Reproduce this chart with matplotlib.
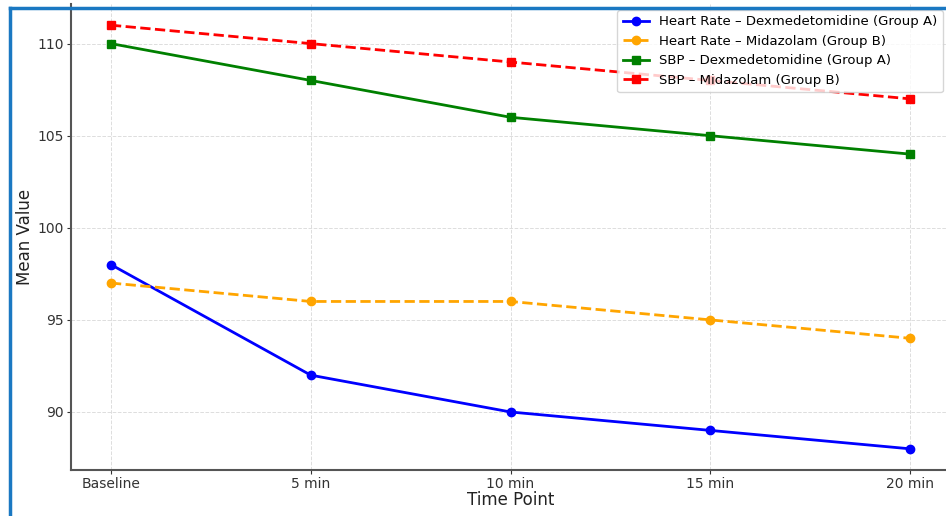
import matplotlib
matplotlib.use('Agg')
import matplotlib.pyplot as plt
from matplotlib.lines import Line2D

time_points = ['Baseline', '5 min', '10 min', '15 min', '20 min']
hr_dex = [98, 92, 90, 89, 88]
hr_mid = [97, 96, 96, 95, 94]
sbp_dex = [110, 108, 106, 105, 104]
sbp_mid = [111, 110, 109, 108, 107]

fig = plt.figure(figsize=(9.46, 5.16), dpi=100)
ax = fig.add_axes([71 / 946, 46 / 516, 879 / 946, 466 / 516])

x = range(len(time_points))
ax.plot(x, hr_dex, color='blue', marker='o', lw=2, ms=6, label='Heart Rate – Dexmedetomidine (Group A)')
ax.plot(x, hr_mid, color='orange', marker='o', lw=2, ms=6, ls='--', label='Heart Rate – Midazolam (Group B)')
ax.plot(x, sbp_dex, color='green', marker='s', lw=2, ms=6, label='SBP – Dexmedetomidine (Group A)')
ax.plot(x, sbp_mid, color='red', marker='s', lw=2, ms=6, ls='--', label='SBP – Midazolam (Group B)')

ax.set_xticks(list(x))
ax.set_xticklabels(time_points)
ax.set_yticks([90, 95, 100, 105, 110])
ax.tick_params(labelsize=10, colors='#333333', length=3, pad=2)
ax.set_xlabel('Time Point', fontsize=12, color='#222222')
ax.set_ylabel('Mean Value', fontsize=12, color='#222222')
ax.xaxis.set_label_coords(0.5, -0.045)
ax.yaxis.set_label_coords(-0.042, 0.5)
ax.grid(True, ls='--', color='#dddddd', lw=0.7)

for side in ['top', 'right']:
    ax.spines[side].set_visible(False)
for side in ['left', 'bottom']:
    ax.spines[side].set_color('#555555')
    ax.spines[side].set_linewidth(1.5)

ax.legend(loc='upper right', bbox_to_anchor=(943 / 946, 1 - 10 / 516),
          bbox_transform=fig.transFigure, borderaxespad=0, fontsize=9.5,
          labelspacing=0.5)

# blue frame of the screenshot
fig.add_artist(Line2D([10 / 946, 10 / 946], [0, 1 - 8 / 516], transform=fig.transFigure,
                      color='#1a78c2', lw=2.5))
fig.add_artist(Line2D([10 / 946, 1], [1 - 8 / 516, 1 - 8 / 516], transform=fig.transFigure,
                      color='#1a78c2', lw=2.5))

fig.savefig('out.png', dpi=100)
